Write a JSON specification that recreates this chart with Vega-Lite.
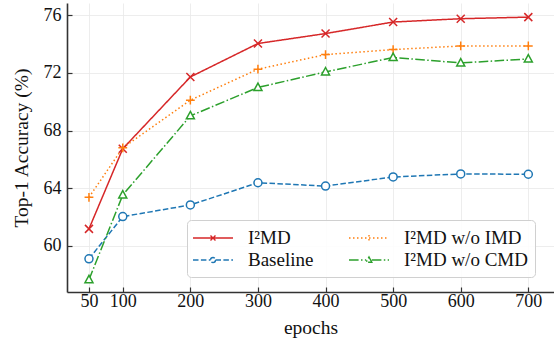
{
  "$schema": "https://vega.github.io/schema/vega-lite/v6.json",
  "width": 487,
  "height": 289,
  "autosize": {"type": "none"},
  "padding": {"left": 67, "top": 3, "right": 0, "bottom": 53},
  "background": "white",
  "config": {
    "font": "Liberation Serif",
    "view": {"stroke": null},
    "axis": {
      "labelFont": "Liberation Serif",
      "titleFont": "Liberation Serif",
      "labelFontSize": 18,
      "titleFontSize": 19.5,
      "titleFontWeight": "normal",
      "labelColor": "#111",
      "titleColor": "#111",
      "domainColor": "#333",
      "domainWidth": 1.6,
      "tickColor": "#333",
      "tickWidth": 1.2,
      "tickSize": -5,
      "gridColor": "#e8e8e8",
      "gridWidth": 0.8
    },
    "legend": {
      "labelFont": "Liberation Serif",
      "labelFontSize": 19,
      "labelColor": "#111"
    }
  },
  "data": {
    "values": [
      {"epochs": 50, "acc": 61.18, "series": "I²MD"},
      {"epochs": 100, "acc": 66.74, "series": "I²MD"},
      {"epochs": 200, "acc": 71.72, "series": "I²MD"},
      {"epochs": 300, "acc": 74.04, "series": "I²MD"},
      {"epochs": 400, "acc": 74.73, "series": "I²MD"},
      {"epochs": 500, "acc": 75.53, "series": "I²MD"},
      {"epochs": 600, "acc": 75.76, "series": "I²MD"},
      {"epochs": 700, "acc": 75.87, "series": "I²MD"},
      {"epochs": 50, "acc": 63.37, "series": "I²MD w/o IMD"},
      {"epochs": 100, "acc": 66.8, "series": "I²MD w/o IMD"},
      {"epochs": 200, "acc": 70.11, "series": "I²MD w/o IMD"},
      {"epochs": 300, "acc": 72.26, "series": "I²MD w/o IMD"},
      {"epochs": 400, "acc": 73.27, "series": "I²MD w/o IMD"},
      {"epochs": 500, "acc": 73.62, "series": "I²MD w/o IMD"},
      {"epochs": 600, "acc": 73.87, "series": "I²MD w/o IMD"},
      {"epochs": 700, "acc": 73.87, "series": "I²MD w/o IMD"},
      {"epochs": 50, "acc": 59.1, "series": "Baseline"},
      {"epochs": 100, "acc": 62.03, "series": "Baseline"},
      {"epochs": 200, "acc": 62.84, "series": "Baseline"},
      {"epochs": 300, "acc": 64.38, "series": "Baseline"},
      {"epochs": 400, "acc": 64.15, "series": "Baseline"},
      {"epochs": 500, "acc": 64.78, "series": "Baseline"},
      {"epochs": 600, "acc": 64.99, "series": "Baseline"},
      {"epochs": 700, "acc": 64.97, "series": "Baseline"},
      {"epochs": 50, "acc": 57.65, "series": "I²MD w/o CMD"},
      {"epochs": 100, "acc": 63.53, "series": "I²MD w/o CMD"},
      {"epochs": 200, "acc": 69.02, "series": "I²MD w/o CMD"},
      {"epochs": 300, "acc": 70.99, "series": "I²MD w/o CMD"},
      {"epochs": 400, "acc": 72.07, "series": "I²MD w/o CMD"},
      {"epochs": 500, "acc": 73.07, "series": "I²MD w/o CMD"},
      {"epochs": 600, "acc": 72.69, "series": "I²MD w/o CMD"},
      {"epochs": 700, "acc": 72.97, "series": "I²MD w/o CMD"}
    ]
  },
  "encoding": {
    "x": {
      "field": "epochs",
      "type": "quantitative",
      "scale": {"domain": [17.5, 738], "nice": false, "zero": false},
      "axis": {"values": [50, 100, 200, 300, 400, 500, 600, 700], "title": "epochs", "labelPadding": 5, "titlePadding": 8}
    },
    "y": {
      "field": "acc",
      "type": "quantitative",
      "scale": {"domain": [56.8, 76.85], "nice": false, "zero": false},
      "axis": {"values": [60, 64, 68, 72, 76], "title": "Top-1 Accuracy (%)", "labelPadding": 11, "titlePadding": 12}
    },
    "color": {
      "field": "series",
      "type": "nominal",
      "scale": {
        "domain": ["I²MD", "Baseline", "I²MD w/o IMD", "I²MD w/o CMD"],
        "range": ["#d62728", "#1f77b4", "#ff7f0e", "#2ca02c"]
      }
    }
  },
  "resolve": {"legend": {"shape": "independent", "strokeDash": "independent"}},
  "layer": [
    {
      "mark": {"type": "line", "strokeWidth": 1.5},
      "encoding": {
        "strokeDash": {
          "field": "series",
          "type": "nominal",
          "scale": {
            "domain": ["I²MD", "Baseline", "I²MD w/o IMD", "I²MD w/o CMD"],
            "range": [[1, 0], [5.5, 2.4], [1.5, 2.5], [9.6, 2.4, 1.5, 2.4]]
          },
          "legend": null
        },
        "color": {
          "field": "series",
          "type": "nominal",
          "legend": {
            "title": null,
            "orient": "none",
            "legendX": 120,
            "legendY": 217,
            "columns": 2,
            "columnPadding": 32,
            "rowPadding": 1,
            "padding": 7,
            "fillColor": "rgba(255,255,255,0.85)",
            "strokeColor": "#d0d0d0",
            "cornerRadius": 4,
            "symbolSize": 400,
            "symbolOffset": 8,
            "symbolStrokeWidth": 1.4,
            "labelOffset": 24,
            "encode": {
              "symbols": {
                "update": {
                  "fill": {"value": "transparent"},
                  "shape": {"signal": "datum.value == 'I²MD' ? 'M-2,0L2,0M-0.25,-0.25L0.25,0.25M-0.25,0.25L0.25,-0.25' : datum.value == 'Baseline' ? 'M-2,0L-0.25,0M0.25,0L2,0M0.25,0A0.25,0.25 0 1,1 -0.25,0A0.25,0.25 0 1,1 0.25,0' : datum.value == 'I²MD w/o IMD' ? 'M-2,0L2,0M0,-0.3L0,0.3' : 'M-2,0L-0.28,0M0.28,0L2,0M0,-0.3L0.28,0.22L-0.28,0.22Z'"},
                  "strokeDash": {"signal": "datum.value == 'I²MD' ? [1,0] : datum.value == 'Baseline' ? [5.5,2.4] : datum.value == 'I²MD w/o IMD' ? [1.5,2.5] : [9.6,2.4,1.5,2.4]"}
                }
              }
            }
          }
        }
      }
    },
    {
      "mark": {"type": "point", "filled": false, "strokeWidth": 1.5, "fill": "white", "fillOpacity": 1},
      "encoding": {
        "shape": {
          "field": "series",
          "type": "nominal",
          "scale": {
            "domain": ["I²MD", "Baseline", "I²MD w/o IMD", "I²MD w/o CMD"],
            "range": ["M-1,-1L1,1M-1,1L1,-1", "circle", "M-1.1,0L1.1,0M0,-1.1L0,1.1", "M0,-1.1L1,0.75L-1,0.75Z"]
          },
          "legend": null
        },
        "size": {"value": 64},
        "color": {"field": "series", "type": "nominal", "legend": null}
      }
    }
  ]
}
